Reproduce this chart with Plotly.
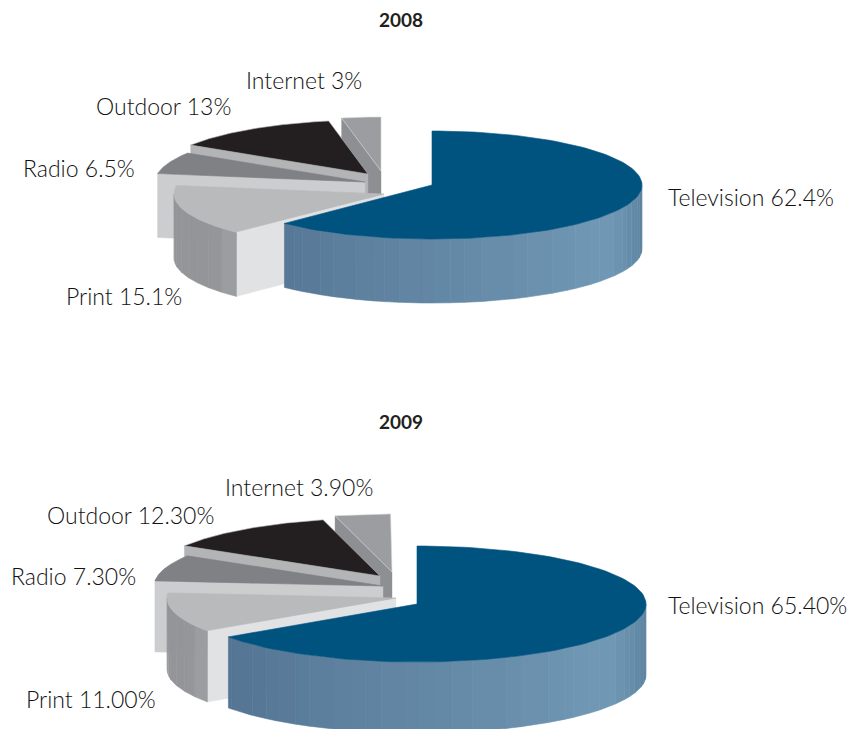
import numpy as np
import plotly.graph_objects as go

# ---- data ----
categories = ["Television", "Print", "Radio", "Outdoor", "Internet"]
values_2008 = [62.4, 15.1, 6.5, 13.0, 3.0]
values_2009 = [65.4, 11.0, 7.3, 12.3, 3.9]
labels_2008 = ["62.4%", "15.1%", "6.5%", "13%", "3%"]
labels_2009 = ["65.40%", "11.00%", "7.30%", "12.30%", "3.90%"]
titles = ["2008", "2009"]

# ---- style / layout ----
W, H = 852, 729
TOP = {"Print": "#b9babc", "Radio": "#808184", "Outdoor": "#231f20", "Internet": "#9c9da0", "Television": "#00537f"}
CUT = {"Print": "#e1e2e4", "Radio": "#cbcdcf", "Outdoor": "#b2b4b6", "Internet": "#8e8f92"}
EDGE = {"Print": "#b9babc", "Radio": "#808184", "Outdoor": "#b2b4b6", "Internet": "#d4d5d6", "Television": "#00537f"}
STRIP_STEPS = [4, 5, 3, 6, 4, 3, 5, 7, 4, 6, 3, 5, 8, 4, 9, 5]

PIES = [
    dict(values=values_2008, texts=labels_2008, a=210, b=54, depth=64,
         apex={"Television": (432, 185), "Print": (384, 194), "Radio": (365, 182),
               "Outdoor": (368, 174), "Internet": (381, 171)},
         title=(401, 19),
         pos={"Television": (669, 198), "Print": (67, 297), "Radio": (24, 169),
              "Outdoor": (97, 107), "Internet": (247, 81)}),
    dict(values=values_2009, texts=labels_2009, a=229, b=58, depth=71,
         apex={"Television": (417, 604), "Print": (396, 598), "Radio": (383, 586),
               "Outdoor": (380, 576), "Internet": (392, 572)},
         title=(401, 421),
         pos={"Television": (669, 606), "Print": (27, 700), "Radio": (12, 577),
              "Outdoor": (48, 516), "Internet": (226, 488)}),
]


def arc(c, a, b, t0, t1, n=60):
    th = np.radians(np.linspace(t0, t1, n))
    return c[0] + a * np.sin(th), c[1] - b * np.cos(th)


def poly(fig, x, y, fill, line=None, lw=0.0):
    fig.add_trace(go.Scatter(
        x=list(x), y=list(y), mode="lines", fill="toself", fillcolor=fill,
        line=dict(color=line or fill, width=lw if lw else 0.4),
        hoverinfo="skip", showlegend=False))


def mix(c0, c1, f):
    return "rgb(%d,%d,%d)" % tuple(round(p + (q - p) * f) for p, q in zip(c0, c1))


def strip_colour(t):
    # lighter in the front right, darker towards both ends of the band
    if t < 125:
        return mix((88, 128, 156), (113, 153, 182), min(1, (t - 90) / 35))
    return mix((113, 153, 182), (86, 120, 150), (t - 125) / 100)


def draw_side(fig, c, a, b, d, t0, t1, colour_fn, steps=None):
    t0, t1 = max(t0, 90), min(t1, 270)
    if t1 <= t0:
        return
    edges = [t0]
    i = 0
    while edges[-1] < t1:
        edges.append(min(t1, edges[-1] + (steps[i % len(steps)] if steps else 6)))
        i += 1
    for s0, s1 in zip(edges[:-1], edges[1:]):
        ax, ay = arc(c, a, b, s0, s1, 8)
        x = np.r_[ax, ax[::-1], ax[0]]
        y = np.r_[ay, ay[::-1] + d, ay[0]]
        col = colour_fn((s0 + s1) / 2)
        poly(fig, x, y, col, line=col, lw=0.6)


fig = go.Figure()
annotations = []
for year, pie in zip(titles, PIES):
    a, b, d = pie["a"], pie["b"], pie["depth"]
    spans = {}
    acc = 0.0
    for cat, v in zip(categories, pie["values"]):
        spans[cat] = (acc * 3.6, (acc + v) * 3.6)
        acc += v
    for cat in ["Internet", "Outdoor", "Radio", "Print", "Television"]:
        t0, t1 = spans[cat]
        c = pie["apex"][cat]
        if cat in CUT:
            ex, ey = arc(c, a, b, t0, t0, 1)
            poly(fig, [c[0], ex[0], ex[0], c[0], c[0]],
                 [c[1], ey[0], ey[0] + d, c[1] + d, c[1]], CUT[cat])
        if cat == "Television":
            draw_side(fig, c, a, b, d, t0, t1, strip_colour, STRIP_STEPS)
        elif cat == "Print":
            draw_side(fig, c, a, b, d, t0, t1,
                      lambda t: mix((160, 161, 164), (148, 149, 152), min(1, (t - t0) / 10)))
        ax, ay = arc(c, a, b, t0, t1, 120)
        poly(fig, np.r_[c[0], ax, c[0]], np.r_[c[1], ay, c[1]], TOP[cat], line=EDGE[cat], lw=0.6)
    for cat, txt in zip(categories, pie["texts"]):
        x, y = pie["pos"][cat]
        annotations.append(dict(x=x, y=y, text=f"{cat} {txt}", showarrow=False, xanchor="left",
                                yanchor="middle", xshift=-3, yshift=1.5,
                                font=dict(family="Lato Light, Lato", size=23, color="#111111")))
    annotations.append(dict(x=pie["title"][0], y=pie["title"][1], text=f"<b>{year}</b>", showarrow=False,
                            xanchor="center", yanchor="middle",
                            font=dict(family="Lato", size=19, color="#231f20")))

fig.update_layout(
    width=W, height=H, margin=dict(l=0, r=0, t=0, b=0),
    paper_bgcolor="white", plot_bgcolor="white", annotations=annotations,
    xaxis=dict(visible=False, range=[0, W], fixedrange=True),
    yaxis=dict(visible=False, range=[H, 0], fixedrange=True),
)
fig.write_html("out.html", config={"displayModeBar": False},
               post_script="document.body.style.margin='0';")
